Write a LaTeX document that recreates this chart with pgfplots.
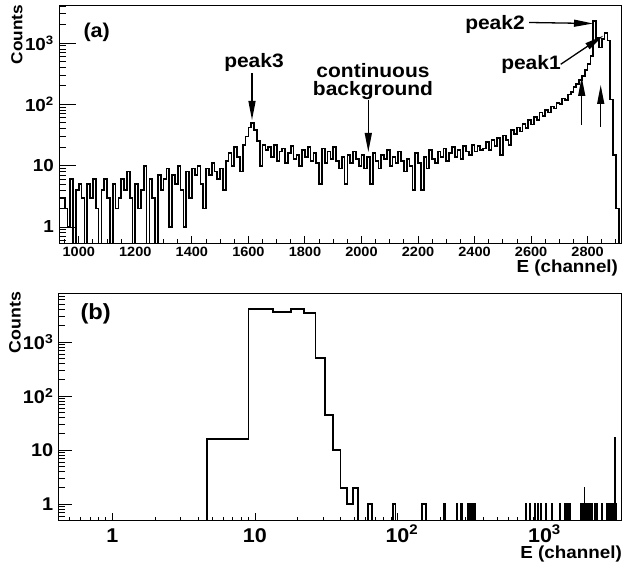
\documentclass[border=0pt]{standalone}
\usepackage{fontspec}
\setmainfont{Liberation Sans}[FakeStretch=1.08]
\usepackage{pgfplots}
\pgfplotsset{compat=1.18}
\usetikzlibrary{arrows.meta}
\newcommand\fs[1]{\fontsize{#1}{#1}\selectfont\bfseries}
\pgfplotsset{
 rootframe/.style={scale only axis, anchor=south west,
   axis line style={line width=0.9bp, black},
   tick style={line width=0.9bp, black},
   tick align=inside, tick pos=left,
   /pgf/number format/assume math mode=true},
 hist/.style={const plot, black, line width=1.7bp, mark=none, line join=miter},
}
\tikzset{rarrow/.style={line width=1.3bp, -{Triangle[length=19bp,width=7bp]}}}
\begin{document}
\begin{tikzpicture}
\path[use as bounding box] (0,0) rectangle (623bp,565bp);
% ---------------- panel (a) ----------------
\begin{axis}[rootframe, at={(59bp,322bp)}, width=562bp, height=238bp,
  xmin=930, xmax=2918, ymode=log, ymin=0.548, ymax=4170,
  xtick={1000,1200,1400,1600,1800,2000,2200,2400,2600,2800},
  xticklabels={1000,1200,1400,1600,1800,2000,2200,2400,2600,2800},
  minor xtick={950,1000,...,2900},
  major tick length=7bp, minor tick length=3.5bp,
  ytick=\empty,
  xticklabel style={font=\fs{13.5}, anchor=base, inner sep=0pt, yshift=-13.7bp}]
\addplot[hist] coordinates {
(930,3)(940,3)(950,2)(960,1)(970,6)(980,0.3)(990,4)(1000,5)(1010,3)(1020,0.3)
(1030,5)(1040,3)(1050,6)(1060,2)(1070,0.3)(1080,4)(1090,6)(1100,3)(1110,0.3)(1120,5)
(1130,2)(1140,3)(1150,6)(1160,4)(1170,8)(1180,3)(1190,0.3)(1200,5)(1210,2)(1220,4)
(1230,10)(1240,0.3)(1250,6)(1260,3)(1270,0.3)(1280,7)(1290,4)(1300,6)(1310,9)(1320,1)
(1330,7)(1340,5)(1350,10)(1360,4)(1370,1)(1380,8)(1390,3)(1400,9)(1410,7)(1420,10)
(1430,5)(1440,2)(1450,9)(1460,7)(1470,11)(1480,8)(1490,6)(1500,9)(1510,4)(1520,12)
(1530,16)(1540,10)(1550,20)(1560,14)(1570,8)(1580,22)(1590,30)(1600,42)(1610,50)(1620,38)
(1630,25)(1640,10)(1650,22)(1660,18)
(1670,20)(1680,14)(1690,22)(1700,12)(1710,17)(1720,19)(1730,11)(1740,16)(1750,21)(1760,13)
(1770,15)(1780,10)(1790,18)(1800,14)(1810,20)(1820,12)(1830,16)(1840,11)(1850,5)(1860,19)
(1870,11)(1880,17)(1890,13)(1900,20)(1910,12)(1920,9)(1930,14)(1940,5)(1950,15)(1960,11)
(1970,17)(1980,13)(1990,10)(2000,15)(2010,9)(2020,14)(2030,5)(2040,16)(2050,12)(2060,9)
(2070,15)(2080,13)(2090,18)(2100,10)(2110,14)(2120,11)(2130,17)(2140,12)(2150,8)(2160,13)
(2170,10)(2180,4)(2190,16)(2200,11)(2210,4)(2220,14)(2230,9)(2240,18)(2250,13)(2260,11)
(2270,17)(2280,14)(2290,19)(2300,12)(2310,16)(2320,20)(2330,14)(2340,18)(2350,13)(2360,21)
(2370,17)(2380,15)(2390,22)(2400,17)(2410,21)(2420,18)
(2430,19)(2440,24)(2450,18)(2460,26)(2470,21)(2480,28)(2490,15)(2500,31)(2510,26)(2520,22)
(2530,38)(2540,33)(2550,42)(2560,36)(2570,48)(2580,41)(2590,55)(2600,47)(2610,62)(2620,56)
(2630,74)(2640,64)(2650,80)(2660,74)(2670,92)(2680,86)(2690,105)(2700,100)(2710,125)(2720,118)
(2730,145)(2740,160)(2750,190)(2760,215)(2770,250)(2780,290)(2790,360)(2800,450)(2810,620)
(2820,2300)(2830,1200)(2840,850)(2850,1150)(2860,1450)(2870,1100)(2880,120)(2890,15)(2900,2)
(2910,0.3)(2920,0.3)};
\end{axis}
\begin{axis}[rootframe, at={(59bp,322bp)}, width=562bp, height=238bp,
  xmin=930, xmax=2918, ymode=log, ymin=0.548, ymax=4170,
  xtick=\empty, ytick={1,10,100,1000},
  yticklabels={1\hspace{3bp},10,10\textsuperscript{2},10\textsuperscript{3}},
  minor ytick={0.6,0.7,0.8,0.9,2,3,4,5,6,7,8,9,20,30,40,50,60,70,80,90,200,300,400,500,600,700,800,900,2000,3000,4000},
  major tick length=17bp, minor tick length=7bp,
  yticklabel style={font=\fs{17.5}, anchor=east, inner sep=0pt, xshift=-5bp}]
\end{axis}
% annotations (a)
\node[font=\fs{20}, anchor=west] at (80bp,532.5bp) {(a)};
\node[font=\fs{16}, rotate=90] at (17bp,530.5bp) {Counts};
\node[font=\fs{17.5}, anchor=base east] at (621.5bp,292bp) {E (channel)};
\node[font=\fs{19.5}, anchor=base] at (254bp,497bp) {peak3};
\draw[rarrow] (252bp,492bp) -- (252bp,445bp);
\node[font=\fs{19.5}, anchor=base, inner sep=0pt] at (373bp,487bp) {continuous};
\node[font=\fs{19.5}, anchor=base, inner sep=0pt] at (373bp,469bp) {background};
\draw[rarrow] (368.3bp,465bp) -- (368.3bp,413bp);
\node[font=\fs{19.5}, anchor=base] at (495bp,535bp) {peak2};
\draw[rarrow] (529bp,542.5bp) -- (593bp,541.5bp);
\node[font=\fs{19.5}, anchor=base] at (531bp,495bp) {peak1};
\draw[rarrow] (560.7bp,500.7bp) -- (603.3bp,529.3bp);
\draw[rarrow] (581.7bp,440bp) -- (581.7bp,488bp);
\draw[rarrow] (600.7bp,438bp) -- (600.7bp,480bp);
% ---------------- panel (b) ----------------
\begin{axis}[rootframe, at={(58bp,45bp)}, width=563bp, height=227bp,
  xmode=log, ymode=log, xmin=0.415, xmax=3700, ymin=0.506, ymax=8070,
  xtick={1,10,100,1000},
  xticklabels={1,10,10\rlap{\textsuperscript{2}},10\rlap{\textsuperscript{3}}},
  minor xtick={0.5,0.6,0.7,0.8,0.9,2,3,4,5,6,7,8,9,20,30,40,50,60,70,80,90,200,300,400,500,600,700,800,900,2000,3000},
  major tick length=7bp, minor tick length=3.5bp,
  ytick=\empty,
  xticklabel style={font=\fs{20}, anchor=base, inner sep=0pt, yshift=-22bp}]
\addplot[hist] coordinates {
(0.2,0.3)(4.6,16)(9.0,4070)(13.4,3550)(17.8,4070)(22.2,3390)(26.6,505)(31.0,45)(35.4,10)(39.8,2)
(44.2,1)(48.6,2)(53.0,0.3)(61.8,1)(66.2,0.3)(92.6,1)(97.0,0.3)
(149,1)(157.8,0.3)(213,1)(217.4,0.3)(259,1)(263.4,0.3)(278,1)(282.4,0.3)
(312,1)(316.4,0.3)(317.5,1)(321.9,0.3)(323,1)(327.4,0.3)(328.5,1)(332.9,0.3)(334,1)(338.4,0.3)
(339.5,1)(343.9,0.3)(345,1)(349.4,0.3)
(797,1)(801.4,0.3)(851,1)(855.4,0.3)(923,1)(927.4,0.3)(973,1)(977.4,0.3)(1011,1)(1015.4,0.3)
(1102,1)(1106.4,0.3)(1208,1)(1212.4,0.3)(1380,1)(1384.4,0.3)
(1497,1)(1501.4,0.3)(1522,1)(1526.4,0.3)(1547,1)(1551.4,0.3)(1573,1)(1577.4,0.3)(1598,1)(1602.4,0.3)
(1625,1)(1629.4,0.3)
(1931,1)(1935.4,0.3)(1962,1)(1966.4,0.3)(1994,1)(1998.4,0.3)(2027,1)(2031.4,0.3)(2047,2)(2051.4,0.3)
(2060,1)(2064.4,0.3)(2094,1)(2098.4,0.3)(2128,1)(2132.4,0.3)(2162,1)(2166.4,0.3)(2198,1)(2202.4,0.3)
(2233,1)(2237.4,0.3)(2270,1)(2274.4,0.3)(2307,1)(2311.4,0.3)
(2433,1)(2437.4,0.3)(2523,1)(2527.4,0.3)(2710,1)(2714.4,0.3)
(2940,1)(2944.4,0.3)(2988,1)(2992.4,0.3)(3037,1)(3041.4,0.3)(3086,1)(3090.4,0.3)(3136,1)(3140.4,0.3)
(3187,1)(3191.4,0.3)(3239,1)(3243.4,0.3)(3292,1)(3296.4,0.3)(3345,1)(3349.4,0.3)(3360,17)(3364.4,0.3)
(3400,1)(3404.4,0.3)(4000,0.3)};
\end{axis}
\begin{axis}[rootframe, at={(58bp,45bp)}, width=563bp, height=227bp,
  xmode=log, ymode=log, xmin=0.415, xmax=3700, ymin=0.506, ymax=8070,
  xtick=\empty, ytick={1,10,100,1000},
  yticklabels={1\hspace{3bp},10,10\textsuperscript{2},10\textsuperscript{3}},
  minor ytick={0.6,0.7,0.8,0.9,2,3,4,5,6,7,8,9,20,30,40,50,60,70,80,90,200,300,400,500,600,700,800,900,2000,3000,4000,5000,6000,7000,8000},
  major tick length=14bp, minor tick length=7bp,
  yticklabel style={font=\fs{18.5}, anchor=east, inner sep=0pt, xshift=-4.5bp}]
\end{axis}
\node[font=\fs{22}, anchor=west] at (77bp,251bp) {(b)};
\node[font=\fs{16.5}, rotate=90] at (15bp,242.5bp) {Counts};
\node[font=\fs{17.5}, anchor=base east, inner sep=0pt] at (622bp,7bp) {E (channel)};
\end{tikzpicture}
\end{document}
